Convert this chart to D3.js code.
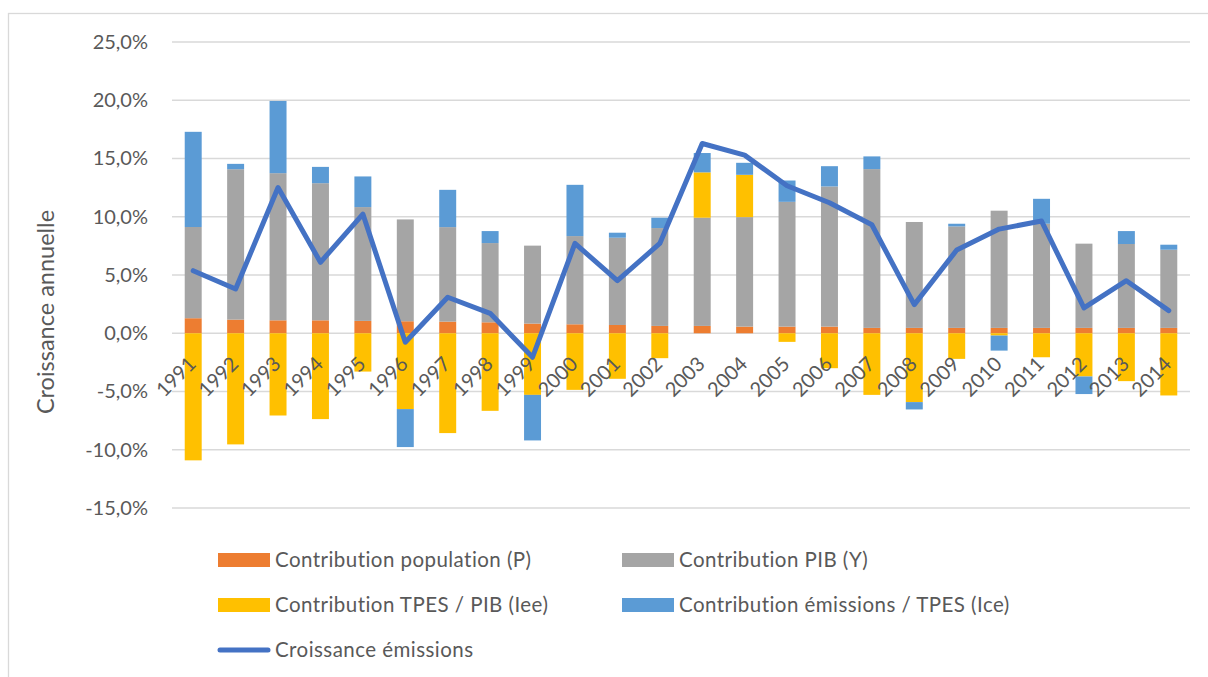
<!DOCTYPE html>
<html>
<head>
<meta charset="utf-8">
<script src="https://cdn.jsdelivr.net/npm/d3@7"></script>
<style>
  body { margin: 0; background: #fff; }
  svg { font-family: Lato, "Open Sans", sans-serif; }
</style>
</head>
<body>
<div id="chart"></div>
<script>
// values, in percent
const years = ["1991","1992","1993","1994","1995","1996","1997","1998","1999","2000","2001","2002",
               "2003","2004","2005","2006","2007","2008","2009","2010","2011","2012","2013","2014"];
const population = [1.29,1.17,1.11,1.11,1.06,1.03,1.00,0.94,0.83,0.77,0.71,0.63,
                    0.63,0.57,0.57,0.57,0.46,0.46,0.46,0.46,0.46,0.46,0.46,0.46];
const pib = [7.83,12.91,12.63,11.77,9.77,8.74,8.11,6.80,6.69,7.57,7.49,8.40,
             9.29,9.40,10.71,12.03,13.63,9.09,8.71,10.06,8.94,7.23,7.20,6.71];
const tpesPib = [-10.91,-9.54,-7.06,-7.37,-3.29,-6.51,-8.57,-6.66,-5.29,-4.86,-3.91,-2.14,
                 3.89,3.63,-0.74,-3.00,-5.29,-5.91,-2.20,-0.20,-2.06,-3.71,-4.11,-5.34];
const emTpes = [8.17,0.46,6.20,1.40,2.63,-3.26,3.20,1.03,-3.91,4.40,0.43,0.89,
                1.66,1.03,1.83,1.74,1.09,-0.63,0.23,-1.29,2.14,-1.51,1.11,0.43];
const croissance = [5.37,3.80,12.51,6.09,10.23,-0.77,3.09,1.71,-2.06,7.71,4.51,7.71,
                    16.29,15.29,12.66,11.20,9.31,2.46,7.14,8.94,9.63,2.17,4.51,1.94];
const yTicks = [-15,-10,-5,0,5,10,15,20,25];

const seriesInfo = [
    {key: "pop", label: "Contribution population (P)", color: "#ED7D31", values: population},
    {key: "pib", label: "Contribution PIB (Y)", color: "#A5A5A5", values: pib},
    {key: "iee", label: "Contribution TPES / PIB (Iee)", color: "#FFC000", values: tpesPib},
    {key: "ice", label: "Contribution émissions / TPES (Ice)", color: "#5B9BD5", values: emTpes}
];
const lineLabel = "Croissance émissions";
const lineColor = "#4472C4";

const W = 1208, H = 677;
const svg = d3.select("#chart").append("svg")
    .attr("width", W).attr("height", H);

// chart frame
svg.append("rect")
    .attr("x", 8.5).attr("y", 13.5)
    .attr("width", W + 20).attr("height", H + 20)
    .attr("fill", "none").attr("stroke", "#D9D9D9").attr("stroke-width", 1.3);

const rows = years.map((yr, i) => {
    const r = {year: yr};
    seriesInfo.forEach(s => r[s.key] = s.values[i]);
    return r;
});

const x = d3.scaleBand()
    .domain(years)
    .range([172, 1190])
    .paddingInner(0.6)
    .paddingOuter(0.3);

const y = d3.scaleLinear()
    .domain([-15, 25])
    .range([508, 42]);

const fr = d3.formatLocale({decimal: ",", thousands: " ", grouping: [3], currency: ["", "€"], minus: "-"});
const fmt = v => fr.format(".1f")(v) + "%";

// gridlines
svg.append("g")
    .selectAll("line")
    .data(yTicks)
    .join("line")
    .attr("x1", 172).attr("x2", 1190)
    .attr("y1", d => y(d)).attr("y2", d => y(d))
    .attr("stroke", "#D9D9D9")
    .attr("stroke-width", 1.4);

// y axis labels
const yAxis = svg.append("g")
    .attr("transform", "translate(164,0)")
    .call(d3.axisLeft(y).tickValues(yTicks).tickFormat(fmt).tickSize(0).tickPadding(16));
yAxis.select(".domain").remove();
yAxis.selectAll("text")
    .style("font-size", "20px")
    .style("font-family", "Lato, 'Open Sans', sans-serif")
    .attr("fill", "#595959");

svg.append("text")
    .attr("transform", `translate(54, 312) rotate(-90)`)
    .attr("text-anchor", "middle")
    .style("font-size", "23.5px")
    .attr("fill", "#595959")
    .text("Croissance annuelle");

// stacked bars (positive and negative parts stacked apart)
const stack = d3.stack()
    .keys(seriesInfo.map(s => s.key))
    .offset(d3.stackOffsetDiverging);
const stacked = stack(rows);

svg.append("g")
    .selectAll("g")
    .data(stacked)
    .join("g")
    .attr("fill", (d, i) => seriesInfo[i].color)
    .selectAll("rect")
    .data(d => d)
    .join("rect")
    .attr("x", d => x(d.data.year))
    .attr("width", x.bandwidth())
    .attr("y", d => y(Math.max(d[0], d[1])))
    .attr("height", d => Math.abs(y(d[0]) - y(d[1])));

// year labels along the zero line
svg.append("g")
    .selectAll("text")
    .data(years)
    .join("text")
    .attr("transform", d => `translate(${x(d) + x.bandwidth() / 2 + 4}, ${y(0) + 32}) rotate(-45)`)
    .attr("text-anchor", "end")
    .style("font-size", "20px")
    .attr("fill", "#595959")
    .text(d => d);

// emissions growth line
const line = d3.line()
    .x((d, i) => x(years[i]) + x.bandwidth() / 2)
    .y(d => y(d));

svg.append("path")
    .datum(croissance)
    .attr("fill", "none")
    .attr("stroke", lineColor)
    .attr("stroke-width", 5)
    .attr("stroke-linejoin", "round")
    .attr("stroke-linecap", "round")
    .attr("d", line);

// legend
const legendPos = [[218, 560], [622, 560], [218, 605], [622, 605]];
const legend = svg.append("g");
seriesInfo.forEach((s, i) => {
    const [lx, ly] = legendPos[i];
    legend.append("rect")
        .attr("x", lx).attr("y", ly - 7)
        .attr("width", 52).attr("height", 14)
        .attr("fill", s.color);
    legend.append("text")
        .attr("x", lx + 57).attr("y", ly)
        .attr("dy", "0.35em")
        .style("font-size", "20.5px")
        .style("letter-spacing", "0.45px")
        .attr("fill", "#595959")
        .text(s.label);
});
legend.append("line")
    .attr("x1", 220).attr("x2", 268)
    .attr("y1", 650).attr("y2", 650)
    .attr("stroke", lineColor)
    .attr("stroke-width", 5)
    .attr("stroke-linecap", "round");
legend.append("text")
    .attr("x", 275).attr("y", 650)
    .attr("dy", "0.35em")
    .style("font-size", "20.5px")
    .style("letter-spacing", "0.45px")
    .attr("fill", "#595959")
    .text(lineLabel);
</script>
</body>
</html>
